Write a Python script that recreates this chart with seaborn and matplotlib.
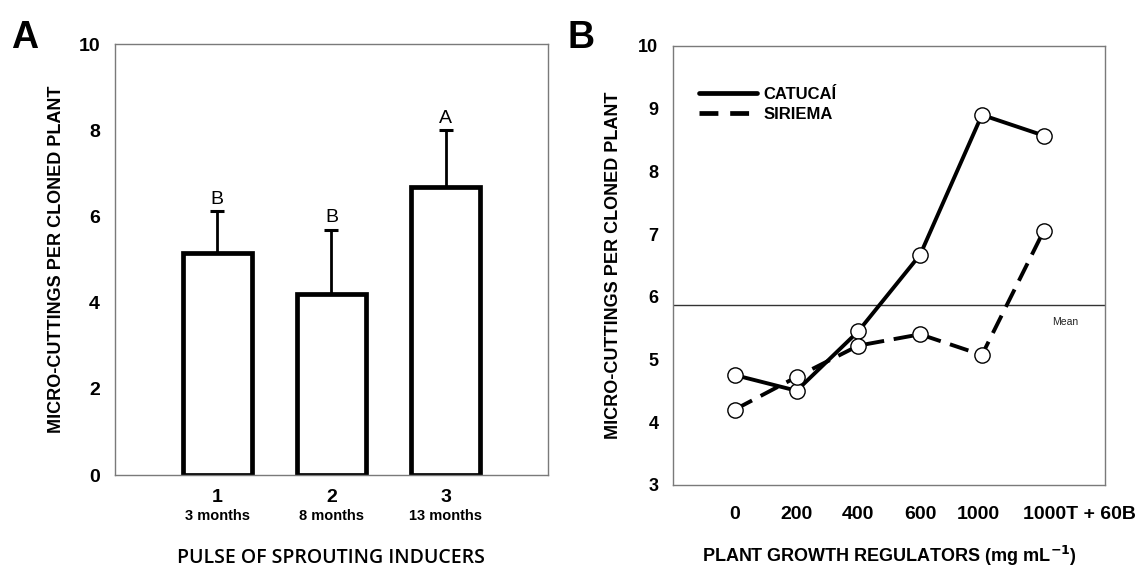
import numpy as np
import pandas as pd
import matplotlib
matplotlib.use("Agg")
import matplotlib.pyplot as plt
import matplotlib.transforms as mtransforms
from matplotlib.lines import Line2D
import seaborn as sns

# ---------------- data ----------------
pulse_cats = ["1", "2", "3"]
pulse_sub = ["3 months", "8 months", "13 months"]
pulse_means = [5.15, 4.20, 6.68]
pulse_err = [0.97, 1.50, 1.33]
pulse_letters = ["B", "B", "A"]

pgr_cats = ["0", "200", "400", "600", "1000", "1000T + 60B"]
catucai = [4.75, 4.50, 5.45, 6.67, 8.90, 8.57]
siriema = [4.20, 4.72, 5.22, 5.40, 5.07, 7.05]
grand_mean = 5.87

# ---------------- style ----------------
sns.set_style("white")
plt.rcParams["font.family"] = ["Liberation Sans", "DejaVu Sans"]
plt.rcParams["text.color"] = "black"
plt.rcParams["axes.labelcolor"] = "black"
plt.rcParams["xtick.color"] = "black"
plt.rcParams["ytick.color"] = "black"

fig = plt.figure(figsize=(11.35, 5.67), dpi=100)
axA = fig.add_axes([0.101, 0.162, 0.382, 0.760])
axB = fig.add_axes([0.593, 0.145, 0.381, 0.774])

spine_col = "#7a7a7a"
for ax in (axA, axB):
    for s in ax.spines.values():
        s.set_color(spine_col)
        s.set_linewidth(1.0)
        s.set_visible(True)
    ax.tick_params(axis="both", direction="out", length=7, width=1.0,
                   color=spine_col, labelcolor="black")

# ---------------- panel A ----------------
dfA = pd.DataFrame({"cat": pulse_cats, "val": pulse_means})
sns.barplot(data=dfA, x="cat", y="val", order=pulse_cats, ax=axA,
            color="white", edgecolor="black", linewidth=3.4, width=0.6,
            errorbar=None)
xs = np.arange(len(pulse_cats))
axA.errorbar(xs, pulse_means, yerr=[np.zeros(len(pulse_err)), pulse_err],
             fmt="none", ecolor="black", elinewidth=2.0, capsize=5, capthick=2.2)
for x, m, e, l in zip(xs, pulse_means, pulse_err, pulse_letters):
    axA.text(x, m + e + 0.08, l, ha="center", va="bottom", fontsize=14)
axA.set_xlim(-0.9, 2.9)
axA.set_ylim(0, 10)
axA.set_yticks([0, 2, 4, 6, 8, 10])
axA.set_xticks(xs)
axA.set_xticklabels(pulse_cats, fontsize=14, fontweight="bold")
axA.tick_params(axis="x", pad=3)
for lab in axA.get_yticklabels():
    lab.set_fontsize(14)
    lab.set_fontweight("bold")
transA = mtransforms.blended_transform_factory(axA.transData, axA.transAxes)
for x, s in zip(xs, pulse_sub):
    axA.text(x, -0.078, s, transform=transA, ha="center", va="top",
             fontsize=10.5, fontweight="bold")
axA.set_xlabel("PULSE OF SPROUTING INDUCERS", fontsize=14,
               family=["Open Sans", "DejaVu Sans"], fontweight="semibold",
               labelpad=30)
axA.set_ylabel("MICRO-CUTTINGS PER CLONED PLANT", fontsize=13,
               fontweight="bold", labelpad=10, color="black")

# ---------------- panel B ----------------
posB = np.arange(len(pgr_cats))
dfB = pd.DataFrame({"pos": np.concatenate([posB, posB]),
                    "val": catucai + siriema,
                    "cultivar": ["CATUCAÍ"] * len(posB) + ["SIRIEMA"] * len(posB)})
sns.lineplot(data=dfB, x="pos", y="val", style="cultivar",
             dashes={"CATUCAÍ": "", "SIRIEMA": (5, 2.5)},
             markers={"CATUCAÍ": "o", "SIRIEMA": "o"},
             color="black", linewidth=2.8, markersize=11,
             markerfacecolor="white", markeredgecolor="black",
             markeredgewidth=1.0, ax=axB, legend=False)
axB.axhline(grand_mean, color="#333333", linewidth=1.0, zorder=1)
axB.text(5.35, grand_mean - 0.27, "Mean", ha="center", va="center",
         fontsize=7.5, color="#222222")
axB.set_xlim(-1, 6)
axB.set_ylim(3, 10)
axB.set_yticks([3, 4, 5, 6, 7, 8, 9, 10])
axB.set_xticks(posB)
axB.set_xticklabels(pgr_cats, fontsize=14, fontweight="bold")
axB.tick_params(axis="x", pad=8)
for lab in axB.get_yticklabels():
    lab.set_fontsize(13)
    lab.set_fontweight("bold")
xl = axB.get_xticklabels()
xl[4].set_transform(xl[4].get_transform() +
                    mtransforms.ScaledTranslation(-0.04, 0, fig.dpi_scale_trans))
xl[-1].set_transform(xl[-1].get_transform() +
                     mtransforms.ScaledTranslation(0.36, 0, fig.dpi_scale_trans))
axB.set_xlabel("PLANT GROWTH REGULATORS (mg mL$^{\\mathbf{-1}}$)", fontsize=13,
               fontweight="bold", labelpad=15, color="black")
axB.set_ylabel("MICRO-CUTTINGS PER CLONED PLANT", fontsize=13,
               fontweight="bold", labelpad=12, color="black")

# legend
handles = [Line2D([], [], color="black", lw=3.4, ls="-"),
           Line2D([], [], color="black", lw=3.4, ls=(0, (4, 2.5)))]
axB.legend(handles, ["CATUCAÍ", "SIRIEMA"], loc="upper left",
           bbox_to_anchor=(0.025, 0.94), frameon=False, handlelength=3.5,
           handletextpad=0.4, labelspacing=0.3,
           prop={"weight": "bold", "size": 12})

# panel letters
fig.text(0.010, 0.915, "A", fontsize=27, fontweight="bold")
fig.text(0.500, 0.915, "B", fontsize=27, fontweight="bold")

fig.savefig("out.png", dpi=100)
